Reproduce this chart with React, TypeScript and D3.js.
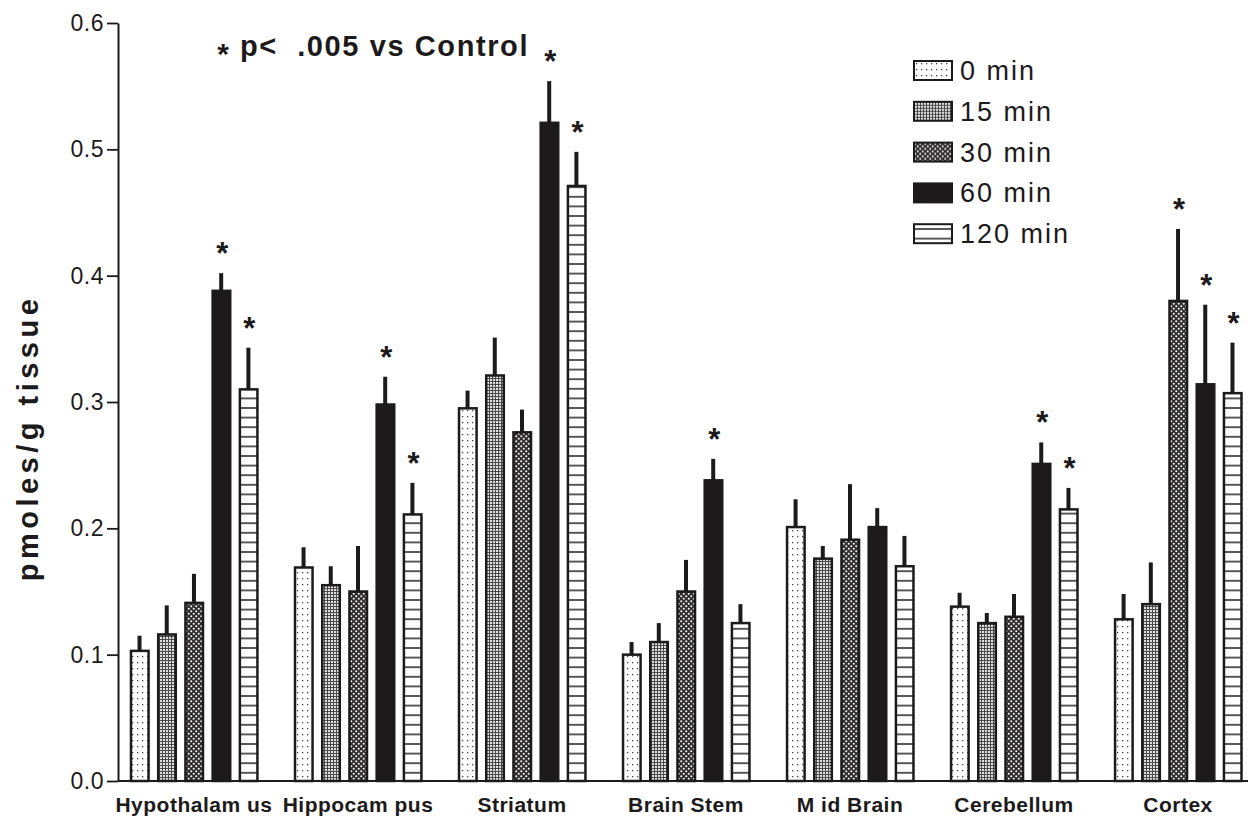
import { useEffect, useRef } from "react";
import * as d3 from "d3";

const regions = ["Hypothalam us", "Hippocam pus", "Striatum", "Brain Stem", "M id Brain", "Cerebellum", "Cortex"];
const times = ["0 min", "15 min", "30 min", "60 min", "120 min"];

// mean values, one array per time point (same order as regions)
const min0 = [0.103, 0.169, 0.295, 0.1, 0.201, 0.138, 0.128];
const min15 = [0.116, 0.155, 0.321, 0.11, 0.176, 0.125, 0.14];
const min30 = [0.141, 0.15, 0.276, 0.15, 0.191, 0.13, 0.38];
const min60 = [0.388, 0.298, 0.521, 0.238, 0.201, 0.251, 0.314];
const min120 = [0.31, 0.211, 0.471, 0.125, 0.17, 0.215, 0.307];

// error bars (upper only)
const sem0 = [0.012, 0.016, 0.014, 0.01, 0.022, 0.011, 0.02];
const sem15 = [0.023, 0.015, 0.03, 0.015, 0.01, 0.008, 0.033];
const sem30 = [0.023, 0.036, 0.018, 0.025, 0.044, 0.018, 0.057];
const sem60 = [0.014, 0.022, 0.033, 0.017, 0.015, 0.017, 0.063];
const sem120 = [0.033, 0.025, 0.027, 0.015, 0.024, 0.017, 0.04];

// p < .005 vs control
const sig0 = [0, 0, 0, 0, 0, 0, 0];
const sig15 = [0, 0, 0, 0, 0, 0, 0];
const sig30 = [0, 0, 0, 0, 0, 0, 1];
const sig60 = [1, 1, 1, 1, 0, 1, 1];
const sig120 = [1, 1, 1, 0, 0, 1, 1];

const yTicks = [0, 0.1, 0.2, 0.3, 0.4, 0.5, 0.6];

const FONT = "'Liberation Sans', Arial, Helvetica, sans-serif";
const INK = "#1c1a1a";

const App = () => {
    const ref = useRef<SVGSVGElement | null>(null);

    useEffect(() => {
        document.body.style.margin = "0";
        const svg = d3.select(ref.current);
        svg.selectAll("*").remove();

        const W = 1248;
        const H = 819;
        const margin = { top: 23, right: 0, bottom: 38, left: 118 };

        const means = [min0, min15, min30, min60, min120];
        const sems = [sem0, sem15, sem30, sem60, sem120];
        const sigs = [sig0, sig15, sig30, sig60, sig120];

        const rows = regions.flatMap((r, gi) =>
            times.map((t, si) => ({
                region: r,
                time: t,
                si,
                value: means[si][gi],
                sem: sems[si][gi],
                sig: sigs[si][gi] === 1,
            }))
        );

        const x0 = d3.scaleBand().domain(regions).range([130, 1242]).paddingInner(0.22).paddingOuter(0);
        const x1 = d3.scaleBand().domain(times).range([0, x0.bandwidth()]).paddingInner(0.3).paddingOuter(0);
        const y = d3.scaleLinear().domain([0, 0.6]).range([H - margin.bottom, margin.top]);

        // patterns
        const defs = svg.append("defs");
        const p0 = defs.append("pattern").attr("id", "pat0").attr("patternUnits", "userSpaceOnUse")
            .attr("width", 5).attr("height", 6);
        p0.append("rect").attr("width", 5).attr("height", 6).attr("fill", "#fff");
        p0.append("rect").attr("x", 2).attr("y", 2).attr("width", 1.3).attr("height", 1.3).attr("fill", "#444");

        const p1 = defs.append("pattern").attr("id", "pat1").attr("patternUnits", "userSpaceOnUse")
            .attr("width", 3).attr("height", 3);
        p1.append("rect").attr("width", 3).attr("height", 3).attr("fill", "#e0e0e0");
        p1.append("rect").attr("width", 3).attr("height", 1).attr("fill", "#4a4a4a");
        p1.append("rect").attr("width", 1).attr("height", 3).attr("fill", "#4a4a4a");

        const p2 = defs.append("pattern").attr("id", "pat2").attr("patternUnits", "userSpaceOnUse")
            .attr("width", 5).attr("height", 5);
        p2.append("rect").attr("width", 5).attr("height", 5).attr("fill", "#2e2c2c");
        p2.append("circle").attr("cx", 1.25).attr("cy", 1.25).attr("r", 1.05).attr("fill", "#f2f2f2");
        p2.append("circle").attr("cx", 3.75).attr("cy", 3.75).attr("r", 1.05).attr("fill", "#f2f2f2");

        const p4 = defs.append("pattern").attr("id", "pat4").attr("patternUnits", "userSpaceOnUse")
            .attr("width", 10).attr("height", 9.6);
        p4.append("rect").attr("width", 10).attr("height", 9.6).attr("fill", "#fff");
        p4.append("rect").attr("y", 4).attr("width", 10).attr("height", 1.6).attr("fill", "#333");

        const fills = ["url(#pat0)", "url(#pat1)", "url(#pat2)", INK, "url(#pat4)"];

        const g = svg.append("g");

        // bars
        g.selectAll(".bar")
            .data(rows)
            .enter().append("rect")
            .attr("class", "bar")
            .attr("x", d => (x0(d.region) ?? 0) + (x1(d.time) ?? 0) + 1)
            .attr("y", d => y(d.value))
            .attr("width", x1.bandwidth() - 1.5)
            .attr("height", d => y(0) - y(d.value))
            .attr("fill", d => fills[d.si])
            .attr("stroke", INK)
            .attr("stroke-width", 2.5);

        // error bars
        g.selectAll(".err")
            .data(rows)
            .enter().append("line")
            .attr("class", "err")
            .attr("x1", d => (x0(d.region) ?? 0) + (x1(d.time) ?? 0) + x1.bandwidth() / 2)
            .attr("x2", d => (x0(d.region) ?? 0) + (x1(d.time) ?? 0) + x1.bandwidth() / 2)
            .attr("y1", d => y(d.value))
            .attr("y2", d => y(d.value + d.sem))
            .attr("stroke", INK)
            .attr("stroke-width", 4);

        // significance stars
        g.selectAll(".star")
            .data(rows.filter(d => d.sig))
            .enter().append("text")
            .attr("class", "star")
            .attr("x", d => (x0(d.region) ?? 0) + (x1(d.time) ?? 0) + x1.bandwidth() / 2 + 1)
            .attr("y", d => y(d.value + d.sem) - 9)
            .attr("text-anchor", "middle")
            .attr("font-family", FONT)
            .attr("font-weight", "bold")
            .attr("font-size", 31)
            .attr("fill", INK)
            .text("*");

        // y axis
        const yAxis = g.append("g")
            .attr("transform", `translate(${margin.left},0)`)
            .call(d3.axisLeft(y).tickValues(yTicks).tickFormat(d3.format(".1f")).tickSize(11).tickSizeOuter(0));
        yAxis.select(".domain").attr("stroke", INK).attr("stroke-width", 2);
        yAxis.selectAll(".tick line").attr("stroke", INK).attr("stroke-width", 1.8);
        yAxis.selectAll(".tick text")
            .attr("font-family", FONT)
            .attr("font-size", 23)
            .attr("letter-spacing", 0.5)
            .attr("fill", INK)
            .attr("x", -14);

        // x axis line
        g.append("line")
            .attr("x1", margin.left)
            .attr("x2", W)
            .attr("y1", y(0))
            .attr("y2", y(0))
            .attr("stroke", INK)
            .attr("stroke-width", 2);

        // category labels
        g.selectAll(".cat")
            .data(regions)
            .enter().append("text")
            .attr("class", "cat")
            .attr("x", d => (x0(d) ?? 0) + x0.bandwidth() / 2)
            .attr("y", 812)
            .attr("text-anchor", "middle")
            .attr("font-family", FONT)
            .attr("font-weight", "bold")
            .attr("font-size", 21)
            .attr("letter-spacing", 0.5)
            .attr("fill", INK)
            .text(d => d);

        // y axis title
        g.append("text")
            .attr("transform", `translate(38, 438) rotate(-90)`)
            .attr("text-anchor", "middle")
            .attr("font-family", FONT)
            .attr("font-weight", "bold")
            .attr("font-size", 29)
            .attr("letter-spacing", 4.5)
            .attr("fill", INK)
            .text("pmoles/g tissue");

        // annotation
        g.append("text")
            .attr("x", 223)
            .attr("y", 64)
            .attr("text-anchor", "middle")
            .attr("font-family", FONT)
            .attr("font-weight", "bold")
            .attr("font-size", 30)
            .attr("fill", INK)
            .text("*");
        g.append("text")
            .attr("x", 240)
            .attr("y", 56)
            .attr("font-family", FONT)
            .attr("font-weight", "bold")
            .attr("font-size", 29)
            .attr("letter-spacing", 1.6)
            .attr("fill", INK)
            .attr("xml:space", "preserve")
            .style("white-space", "pre")
            .text("p<  .005 vs Control");

        // legend
        const legend = g.append("g").attr("transform", "translate(914, 61)");
        const item = legend.selectAll(".leg")
            .data(times)
            .enter().append("g")
            .attr("class", "leg")
            .attr("transform", (d, i) => `translate(0, ${i * 40.8})`);
        item.append("rect")
            .attr("width", 38)
            .attr("height", 19)
            .attr("fill", (d, i) => fills[i])
            .attr("stroke", INK)
            .attr("stroke-width", 2);
        item.append("text")
            .attr("x", 46)
            .attr("y", 19)
            .attr("font-family", FONT)
            .attr("font-size", 27)
            .attr("letter-spacing", 2)
            .attr("fill", INK)
            .text(d => d);
    }, []);

    return <svg ref={ref} width={1248} height={819} style={{ display: "block", background: "#fff" }} />;
};

export default App;
